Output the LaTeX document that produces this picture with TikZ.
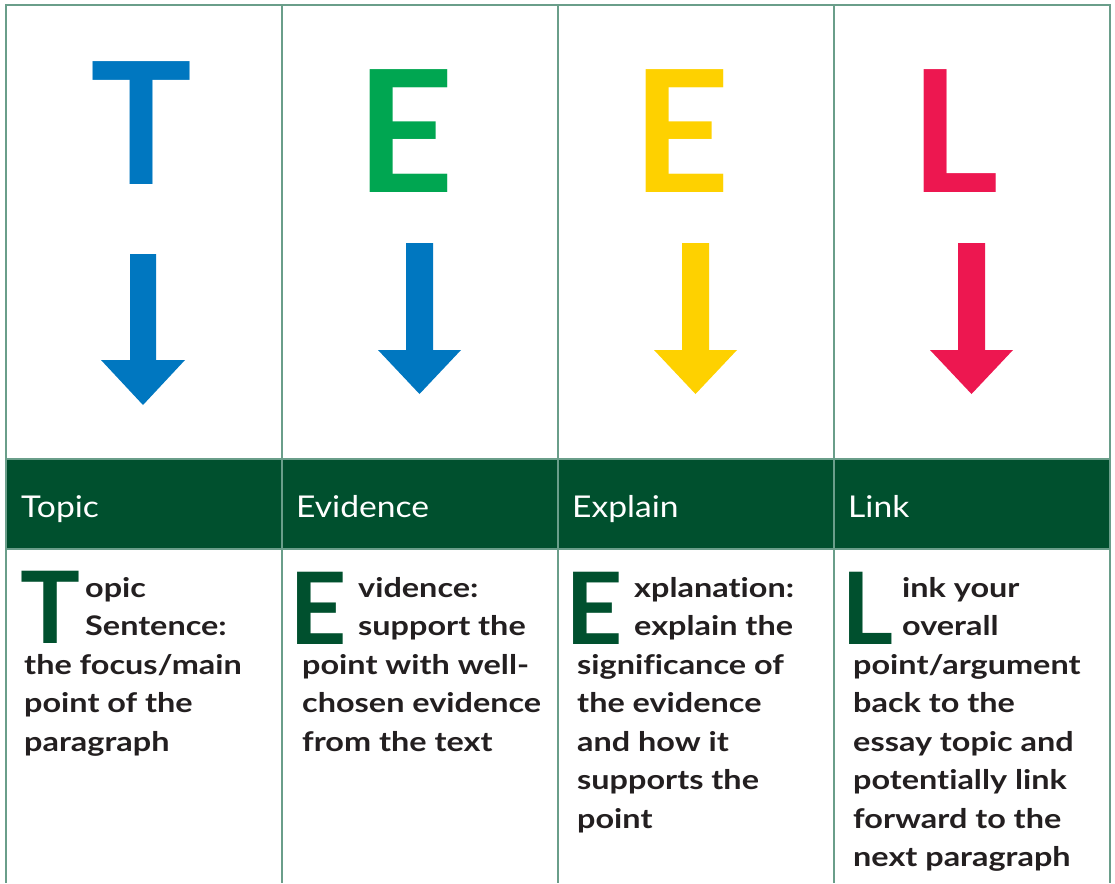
\documentclass[tikz,border=0pt]{standalone}
\usepackage{fontspec}
\setmainfont{Lato}
\newfontfamily\headfont{Lato}[FakeStretch=1.12]
\newfontfamily\bodyfont{Lato}[FakeStretch=1.2, Ligatures=NoCommon]

\definecolor{rulecol}{RGB}{106,158,138}
\definecolor{bandgreen}{RGB}{0,80,46}
\definecolor{teelblue}{RGB}{0,119,192}
\definecolor{teelgreen}{RGB}{0,166,81}
\definecolor{teelyellow}{RGB}{254,209,0}
\definecolor{teelred}{RGB}{237,23,80}
\definecolor{inkcol}{RGB}{35,31,32}

\tikzset{
  gridline/.style={draw=rulecol, line width=2pt},
  bigletter/.style={anchor=base west, inner sep=0pt,
    font=\fontsize{170}{170}\selectfont\bfseries},
  dropcap/.style={anchor=base west, inner sep=0pt, text=bandgreen,
    font=\fontsize{100}{100}\selectfont\bfseries},
  headlabel/.style={anchor=base west, inner sep=0pt, text=white,
    font=\headfont\fontsize{30}{30}\selectfont},
  bodytext/.style={anchor=base west, inner sep=0pt, text=inkcol,
    font=\bodyfont\fontsize{27}{38.5}\selectfont\bfseries},
}

% block arrow pointing down: colour, centre x, shaft top, head top, tip, half shaft, half head
\newcommand{\blockarrow}[7]{%
  \fill[#1] (#2-#6,#3) -- (#2+#6,#3) -- (#2+#6,#4) -- (#2+#7,#4)
    -- (#2,#5) -- (#2-#7,#4) -- (#2-#6,#4) -- cycle;}

\begin{document}
\begin{tikzpicture}[x=1pt, y=-1pt]
\useasboundingbox (0,0) rectangle (1115,883);
\fill[white] (0,0) rectangle (1115,883);

% header band
\fill[bandgreen] (6,459) rectangle (1110,549);

% table rules
\foreach \xx in {6,282,558,834,1110}
  \draw[gridline] (\xx,5) -- (\xx,883);
\foreach \yy in {5,459,549}
  \draw[gridline] (5,\yy) -- (1111,\yy);

% large initials
\node[bigletter, text=teelblue]   (bigT)  at (90.6,184)  {T};
\node[bigletter, text=teelgreen]  (bigE1) at (356.5,192) {E};
\node[bigletter, text=teelyellow] (bigE2) at (632.5,192) {E};
\node[bigletter, text=teelred]    (bigL)  at (910.5,192) {L};

% arrows
\blockarrow{teelblue}{143}{254}{360}{405}{13}{42}
\blockarrow{teelblue}{419.5}{243}{350}{394}{13.5}{41.5}
\blockarrow{teelyellow}{695.5}{243}{350}{394}{13.5}{41.5}
\blockarrow{teelred}{971.5}{243}{350}{394}{13.5}{41.5}

% header labels
\node[headlabel] (hTopic)    at (21,517)    {Topic};
\node[headlabel] (hEvidence) at (296,517)   {Evidence};
\node[headlabel] (hExplain)  at (572,517)   {Explain};
\node[headlabel] (hLink)     at (848,517)   {Link};

% drop caps
\node[dropcap] (capT)  at (20,643)    {T};
\node[dropcap] (capE1) at (289,644)   {E};
\node[dropcap] (capE2) at (565,644)   {E};
\node[dropcap] (capL)  at (841,644)   {L};

% descriptions
\node[bodytext] (dTopic) at (24,597) {\parbox[t]{270pt}{\raggedright
  \hspace*{61pt}opic\\
  \hspace*{61pt}Sentence:\\
  the focus/main\\
  point of the\\
  paragraph}};
\node[bodytext] (dEvidence) at (302,597) {\parbox[t]{270pt}{\raggedright
  \hspace*{56pt}vidence:\\
  \hspace*{56pt}support the\\
  point with well-\\
  chosen evidence\\
  from the text}};
\node[bodytext] (dExplain) at (577,597) {\parbox[t]{270pt}{\raggedright
  \hspace*{57pt}xplanation:\\
  \hspace*{57pt}explain the\\
  significance of\\
  the evidence\\
  and how it\\
  supports the\\
  point}};
\node[bodytext] (dLink) at (853,597) {\parbox[t]{270pt}{\raggedright
  \hspace*{49pt}ink your\\
  \hspace*{49pt}overall\\
  point/argument\\
  back to the\\
  essay topic and\\
  potentially link\\
  forward to the\\
  next paragraph}};
\end{tikzpicture}
\end{document}
